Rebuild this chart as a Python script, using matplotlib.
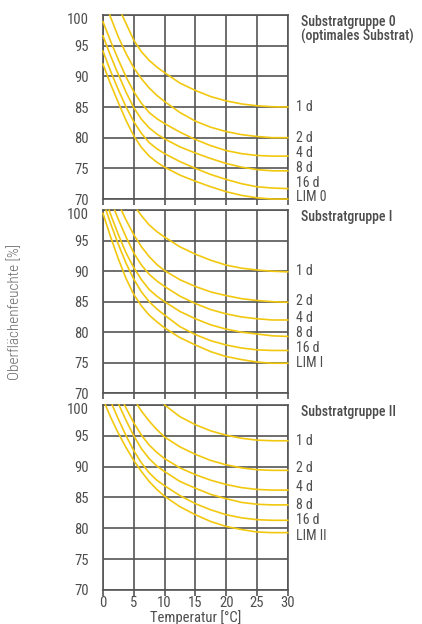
import matplotlib
matplotlib.use('Agg')
import matplotlib.pyplot as plt
import matplotlib.transforms as mtransforms
from matplotlib import font_manager

# 选一个窄体字体（没有就退回普通字体）
names = {f.name for f in font_manager.fontManager.ttflist}
narrow = [n for n in ['Roboto Condensed', 'Liberation Sans Narrow', 'Open Sans Condensed',
                      'Noto Sans Display', 'Roboto'] if n in names]
plt.rcParams['font.family'] = narrow + ['Liberation Sans', 'DejaVu Sans']

# 数据
x_grid = [0, 1.25, 2.5, 3.75, 5, 6.25, 7.5, 8.75, 10, 12.5, 15, 17.5, 20, 22.5, 25, 27.5, 30]
series_names = ['1 d', '2 d', '4 d', '8 d', '16 d']
panel_titles = ['Substratgruppe 0\n(optimales Substrat)', 'Substratgruppe I', 'Substratgruppe II']
lim_names = ['LIM 0', 'LIM I', 'LIM II']

# 每条曲线: (起点x, 数值)；起点x处 y=100，数值对应 x_grid 中大于起点的位置
# 起点为 None 时，数值从 x=0 开始
# Substratgruppe 0
g0_1d = (3.1, [98.6, 95.9, 94.0, 92.6, 91.5, 90.6, 88.9, 87.7, 86.7, 86.0, 85.5, 85.2, 85.05, 85.0])
g0_2d = (1.1, [99.6, 96.4, 93.7, 91.4, 89.6, 88.1, 86.9, 85.9, 84.1, 82.7, 81.7, 81.0, 80.5, 80.2, 80.0, 80.0])
g0_4d = (None, [98.9, 95.7, 92.7, 89.9, 87.5, 85.6, 84.1, 83.1, 82.3, 80.9, 79.7, 78.7, 77.9, 77.4, 77.1, 77.0, 77.0])
g0_8d = (None, [96.6, 93.3, 90.3, 87.4, 84.9, 83.0, 81.6, 80.6, 79.8, 78.5, 77.5, 76.6, 75.8, 75.2, 74.8, 74.6, 74.6])
g0_16d = (None, [94.1, 90.8, 87.8, 85.0, 82.6, 80.7, 79.2, 78.2, 77.4, 76.1, 75.0, 74.0, 73.2, 72.5, 72.0, 71.8, 71.7])
g0_lim = (None, [92.0, 88.7, 85.7, 82.8, 80.3, 78.4, 77.0, 76.0, 75.2, 73.9, 72.9, 72.0, 71.2, 70.6, 70.2, 70.0, 70.0])
g0_label_y = [85.0, 80.0, 77.5, 75.1, 72.6, 70.3]

# Substratgruppe I
g1_1d = (5.6, [99.1, 97.6, 96.5, 95.6, 94.0, 92.8, 91.8, 91.0, 90.5, 90.2, 90.0, 89.9])
g1_2d = (3.0, [98.4, 96.0, 94.0, 92.4, 91.1, 90.1, 88.6, 87.5, 86.6, 86.0, 85.5, 85.2, 85.0, 84.9])
g1_4d = (1.9, [98.5, 95.6, 93.0, 91.0, 89.5, 88.4, 87.5, 85.9, 84.7, 83.7, 83.0, 82.5, 82.2, 82.0, 82.0])
g1_8d = (1.0, [99.3, 96.0, 93.0, 90.6, 88.6, 87.0, 85.9, 85.0, 83.4, 82.2, 81.2, 80.5, 80.0, 79.7, 79.4, 79.3])
g1_16d = (0.5, [97.8, 94.4, 91.3, 88.7, 86.6, 85.0, 83.8, 82.8, 80.9, 79.6, 78.6, 77.9, 77.4, 77.1, 77.0, 77.0])
g1_lim = (None, [99.5, 95.6, 92.0, 88.8, 86.2, 84.3, 82.8, 81.7, 80.7, 79.1, 77.9, 76.8, 76.0, 75.5, 75.1, 74.9, 74.9])
g1_label_y = [90.0, 85.1, 82.3, 79.8, 77.4, 74.9]

# Substratgruppe II
g2_1d = (10.0, [98.1, 96.8, 95.8, 95.1, 94.6, 94.3, 94.2, 94.2])
g2_2d = (5.6, [99.0, 97.4, 96.0, 94.8, 93.2, 92.0, 91.0, 90.3, 89.8, 89.5, 89.4, 89.4])
g2_4d = (3.5, [99.5, 97.1, 95.1, 93.5, 92.3, 91.3, 89.8, 88.7, 87.8, 87.1, 86.6, 86.3, 86.2, 86.2])
g2_8d = (2.6, [97.5, 95.0, 92.9, 91.3, 90.1, 89.2, 87.6, 86.5, 85.5, 84.8, 84.2, 83.9, 83.8, 83.8])
g2_16d = (1.5, [97.7, 95.0, 92.6, 90.6, 89.0, 87.8, 86.9, 85.3, 84.0, 83.0, 82.2, 81.7, 81.4, 81.3, 81.3])
g2_lim = (0.4, [98.0, 95.4, 93.1, 91.0, 89.2, 87.6, 86.3, 85.2, 83.5, 82.2, 81.1, 80.3, 79.8, 79.4, 79.3, 79.3])
g2_label_y = [94.2, 89.8, 86.7, 83.8, 81.4, 78.8]

groups = [
    [g0_1d, g0_2d, g0_4d, g0_8d, g0_16d, g0_lim],
    [g1_1d, g1_2d, g1_4d, g1_8d, g1_16d, g1_lim],
    [g2_1d, g2_2d, g2_4d, g2_8d, g2_16d, g2_lim],
]
label_ys = [g0_label_y, g1_label_y, g2_label_y]

grid_c = '#555555'
text_c = '#4d4d4d'
curve_c = '#f2c80f'

fig = plt.figure(figsize=(4.22, 6.24), dpi=100)

# 三个面板的位置 [left, bottom, width, height]
rects = [
    [0.244, 0.681, 0.438, 0.295],
    [0.244, 0.370, 0.438, 0.293],
    [0.244, 0.0545, 0.438, 0.2965],
]

for i, rect in enumerate(rects):
    ax = fig.add_axes(rect)
    ax.set_xlim(0, 30)
    ax.set_ylim(70, 100)
    ax.set_xticks(range(0, 31, 5))
    ax.set_yticks(range(70, 101, 5))
    ax.grid(True, color=grid_c, linewidth=1.2)
    ax.set_axisbelow(True)
    for s in ax.spines.values():
        s.set_color(grid_c)
        s.set_linewidth(1.2)
    ax.tick_params(axis='x', direction='out', length=4, width=1.2, color=grid_c,
                   labelsize=10.5, labelcolor=text_c, pad=0.5)
    ax.tick_params(axis='y', length=0, labelsize=10.5, labelcolor=text_c, pad=10)
    if i < 2:
        ax.set_xticklabels([])

    # 顶部 "100" 稍微往下挪，避免和上一面板的 "70" 挤在一起
    top_lbl = ax.yaxis.get_major_ticks()[-1].label1
    top_lbl.set_transform(top_lbl.get_transform() +
                          mtransforms.ScaledTranslation(0, -3.5 / 100, fig.dpi_scale_trans))

    for start, vals in groups[i]:
        if start is None:
            xs = list(x_grid)
            ys = list(vals)
        else:
            xs = [start] + [x for x in x_grid if x > start]
            ys = [100.0] + list(vals)
        ax.plot(xs, ys, color=curve_c, linewidth=1.2, clip_on=False, zorder=3,
                solid_joinstyle='round')

    names_i = series_names + [lim_names[i]]
    for name, ly in zip(names_i, label_ys[i]):
        ax.text(1.045, (ly - 70) / 30, name, transform=ax.transAxes,
                fontsize=10, color=text_c, va='center', ha='left')

    ax.text(1.07, 1.0, panel_titles[i], transform=ax.transAxes,
            fontsize=10, color=text_c, va='top', ha='left', fontweight='medium',
            linespacing=1.0)

    if i == 2:
        ax.set_xlabel('Temperatur [°C]', fontsize=10.5, color=text_c, labelpad=0)

fig.text(0.036, 0.5, 'Oberflächenfeuchte [%]', rotation=90, fontsize=11,
         fontweight='light', color='#666666', va='center', ha='center')

fig.savefig('out.png', dpi=100)
